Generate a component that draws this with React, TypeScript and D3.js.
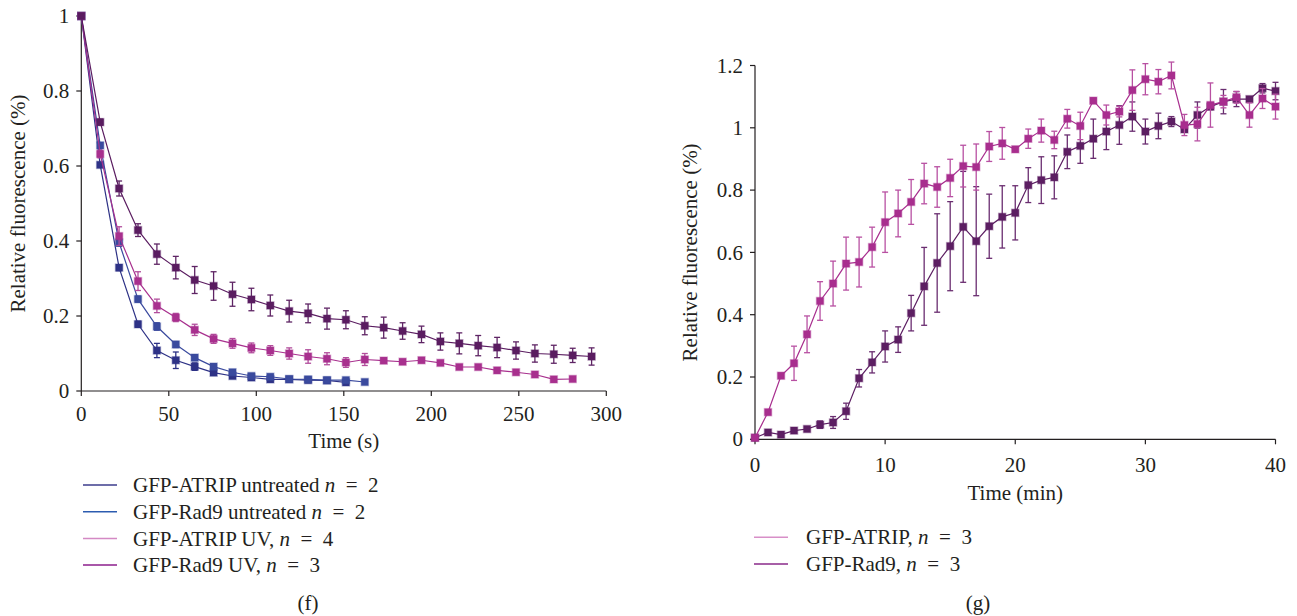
import React from "react";
import * as d3 from "d3";

// ---------- Panel (f) data ----------
const timeS = [0, 10.8, 21.6, 32.4, 43.2, 54, 64.8, 75.6, 86.4, 97.2, 108, 118.8, 129.6, 140.4, 151.2, 162, 172.8, 183.6, 194.4, 205.2, 216, 226.8, 237.6, 248.4, 259.2, 270, 280.8, 291.6];
const atripUntreated = [1, 0.603, 0.329, 0.178, 0.108, 0.082, 0.065, 0.049, 0.040, 0.036, 0.031, 0.031, 0.029, 0.028, 0.023];
const atripUntreatedErr = [0, 0.005, 0.008, 0.008, 0.019, 0.022, 0.01, 0.006, 0.005, 0.005, 0.004, 0.004, 0.004, 0.004, 0.004];
const rad9Untreated = [1, 0.655, 0.396, 0.245, 0.172, 0.124, 0.089, 0.065, 0.050, 0.040, 0.038, 0.032, 0.031, 0.029, 0.029, 0.024];
const rad9UntreatedErr = [0, 0.005, 0.01, 0.008, 0.01, 0.008, 0.008, 0.006, 0.005, 0.005, 0.004, 0.004, 0.004, 0.004, 0.004, 0.003];
const atripUV = [1, 0.632, 0.413, 0.293, 0.227, 0.196, 0.163, 0.139, 0.127, 0.115, 0.108, 0.100, 0.092, 0.086, 0.076, 0.084, 0.081, 0.078, 0.082, 0.075, 0.064, 0.064, 0.055, 0.050, 0.044, 0.031, 0.032];
const atripUVErr = [0, 0.01, 0.025, 0.025, 0.018, 0.011, 0.015, 0.012, 0.013, 0.013, 0.013, 0.015, 0.018, 0.016, 0.013, 0.016, 0.006, 0.005, 0.005, 0.004, 0.004, 0.004, 0.004, 0.004, 0.004, 0.004, 0.004];
const rad9UV = [1, 0.717, 0.540, 0.429, 0.365, 0.329, 0.296, 0.280, 0.258, 0.244, 0.228, 0.213, 0.207, 0.193, 0.190, 0.174, 0.169, 0.160, 0.151, 0.132, 0.127, 0.121, 0.116, 0.108, 0.100, 0.098, 0.095, 0.092];
const rad9UVErr = [0, 0.008, 0.02, 0.017, 0.027, 0.03, 0.036, 0.038, 0.032, 0.03, 0.028, 0.029, 0.025, 0.028, 0.024, 0.024, 0.028, 0.022, 0.022, 0.023, 0.028, 0.027, 0.027, 0.023, 0.023, 0.024, 0.019, 0.023];
const xTicksF = [0, 50, 100, 150, 200, 250, 300];
const yTicksF = [0, 0.2, 0.4, 0.6, 0.8, 1];

// ---------- Panel (g) data ----------
const timeMin = [0, 1, 2, 3, 4, 5, 6, 7, 8, 9, 10, 11, 12, 13, 14, 15, 16, 17, 18, 19, 20, 21, 22, 23, 24, 25, 26, 27, 28, 29, 30, 31, 32, 33, 34, 35, 36, 37, 38, 39, 40];
const atripG = [0.005, 0.087, 0.204, 0.244, 0.337, 0.444, 0.500, 0.564, 0.569, 0.617, 0.697, 0.725, 0.762, 0.821, 0.810, 0.839, 0.877, 0.874, 0.940, 0.950, 0.931, 0.965, 0.991, 0.961, 1.029, 1.006, 1.087, 1.041, 1.052, 1.121, 1.156, 1.148, 1.168, 1.009, 1.012, 1.073, 1.084, 1.098, 1.041, 1.094, 1.068];
const atripGErr = [0, 0.005, 0.008, 0.055, 0.059, 0.062, 0.072, 0.085, 0.08, 0.064, 0.097, 0.075, 0.072, 0.065, 0.065, 0.06, 0.067, 0.074, 0.048, 0.051, 0.008, 0.031, 0.037, 0.028, 0.03, 0.044, 0.008, 0.032, 0.017, 0.065, 0.05, 0.039, 0.043, 0.034, 0.054, 0.071, 0.02, 0.019, 0.039, 0.032, 0.04];
const rad9G = [0.005, 0.022, 0.015, 0.028, 0.033, 0.047, 0.054, 0.090, 0.196, 0.247, 0.298, 0.320, 0.405, 0.491, 0.566, 0.620, 0.682, 0.636, 0.684, 0.714, 0.727, 0.816, 0.832, 0.841, 0.923, 0.942, 0.965, 0.988, 1.009, 1.036, 0.988, 1.006, 1.020, 0.995, 1.041, 1.068, 1.084, 1.092, 1.092, 1.127, 1.118];
const rad9GErr = [0, 0.005, 0.008, 0.006, 0.006, 0.012, 0.019, 0.026, 0.028, 0.034, 0.05, 0.041, 0.057, 0.125, 0.158, 0.143, 0.178, 0.175, 0.103, 0.1, 0.087, 0.056, 0.075, 0.069, 0.054, 0.056, 0.063, 0.058, 0.062, 0.047, 0.04, 0.041, 0.016, 0.008, 0.042, 0.01, 0.039, 0.024, 0.008, 0.015, 0.028];
const xTicksG = [0, 10, 20, 30, 40];
const yTicksG = [0, 0.2, 0.4, 0.6, 0.8, 1, 1.2];

const legendF = [
  { label: "GFP-ATRIP untreated ", n: "2", color: "#3d3d8c" },
  { label: "GFP-Rad9 untreated ", n: "2", color: "#2c5cb0" },
  { label: "GFP-ATRIP UV, ", n: "4", color: "#d489c4" },
  { label: "GFP-Rad9 UV, ", n: "3", color: "#8c1f8c" },
];
const legendG = [
  { label: "GFP-ATRIP, ", n: "3", color: "#d88fc8" },
  { label: "GFP-Rad9, ", n: "3", color: "#8a2a8a" },
];

const FONT = "'Liberation Serif', 'DejaVu Serif', serif";
const FS = 21;

type Scale = d3.ScaleLinear<number, number>;

function Series({ xs, ys, es, x, y, color, errColor }: { xs: number[]; ys: number[]; es: number[]; x: Scale; y: Scale; color: string; errColor: string }) {
  const pts = ys.map((v, i) => [xs[i], v] as [number, number]);
  const line = d3.line<[number, number]>().x((d) => x(d[0])).y((d) => y(d[1]));
  const cap = 3;
  const m = 3.6;
  return (
    <g>
      <path d={line(pts) || ""} fill="none" stroke={color} strokeWidth={1.2} />
      {pts.map((p, i) => {
        const e = es[i] || 0;
        if (e < 0.0075) return null;
        const cx = x(p[0]);
        const y1 = y(p[1] + e);
        const y2 = y(p[1] - e);
        return (
          <g key={"e" + i} stroke={errColor} strokeWidth={1.3}>
            <line x1={cx} x2={cx} y1={y1} y2={y2} />
            <line x1={cx - cap} x2={cx + cap} y1={y1} y2={y1} />
            <line x1={cx - cap} x2={cx + cap} y1={y2} y2={y2} />
          </g>
        );
      })}
      {pts.map((p, i) => (
        <rect key={"m" + i} x={x(p[0]) - m} y={y(p[1]) - m} width={2 * m} height={2 * m} fill={color} stroke={color} strokeOpacity={0.35} strokeWidth={1.4} />
      ))}
    </g>
  );
}

function Axes({ x, y, xt, yt, yFmt, xLabel, xLabelY, titleX, xLabY }: { x: Scale; y: Scale; xt: number[]; yt: number[]; yFmt: (v: number) => string; xLabel: string; xLabelY: number; titleX: number; xLabY: number }) {
  const [x0, x1] = x.range();
  const [y0, y1] = y.range();
  return (
    <g fontFamily={FONT} fontSize={FS} fill="#231f20">
      <line x1={x0} x2={x1} y1={y0} y2={y0} stroke="#231f20" strokeWidth={1.2} />
      <line x1={x0} x2={x0} y1={y0} y2={y1} stroke="#231f20" strokeWidth={1.2} />
      {xt.map((t) => (
        <g key={"x" + t}>
          <line x1={x(t)} x2={x(t)} y1={y0} y2={y0 + 5} stroke="#231f20" strokeWidth={1.2} />
          <text x={x(t)} y={xLabY} textAnchor="middle">{t}</text>
        </g>
      ))}
      {yt.map((t) => (
        <g key={"y" + t}>
          <line x1={x0 - 5} x2={x0} y1={y(t)} y2={y(t)} stroke="#231f20" strokeWidth={1.2} />
          <text x={x0 - 12} y={y(t)} dy="0.34em" textAnchor="end">{yFmt(t)}</text>
        </g>
      ))}
      <text x={(x0 + x1) / 2} y={xLabelY} textAnchor="middle">{xLabel}</text>
      <text transform={`translate(${titleX},${(y0 + y1) / 2}) rotate(-90)`} textAnchor="middle" dy="0.34em">Relative fluorescence (%)</text>
    </g>
  );
}

export default function App() {
  const xF = d3.scaleLinear().domain([0, 300]).range([81.3, 606.3]);
  const yF = d3.scaleLinear().domain([0, 1]).range([391, 16]);
  const xG = d3.scaleLinear().domain([0, 40]).range([755, 1275.5]);
  const yG = d3.scaleLinear().domain([0, 1.2]).range([439.3, 65.5]);
  const fmt = (v: number) => (v === 0 ? "0" : v === 1 ? "1" : d3.format(".1f")(v));
  const eq = "\u2002=\u2002";

  return (
    <svg width={1297} height={616} style={{ position: "absolute", left: 0, top: 0, background: "#fff" }}>
      <rect width={1297} height={616} fill="#fff" />
      {/* Panel f */}
      <Axes x={xF} y={yF} xt={xTicksF} yt={yTicksF} yFmt={fmt} xLabel="Time (s)" xLabelY={448} titleX={18} xLabY={421} />
      <Series xs={timeS} ys={atripUntreated} es={atripUntreatedErr} x={xF} y={yF} color="#2e3286" errColor="#2e3286" />
      <Series xs={timeS} ys={rad9Untreated} es={rad9UntreatedErr} x={xF} y={yF} color="#3a4a9e" errColor="#3a4a9e" />
      <Series xs={timeS} ys={atripUV} es={atripUVErr} x={xF} y={yF} color="#a8308e" errColor="#b24d9c" />
      <Series xs={timeS} ys={rad9UV} es={rad9UVErr} x={xF} y={yF} color="#5a1c60" errColor="#5e2464" />
      <g fontFamily={FONT} fontSize={FS} fill="#231f20">
        {legendF.map((l, i) => {
          const yy = 485 + i * 26.7;
          return (
            <g key={l.label}>
              <line x1={83} x2={117} y1={yy} y2={yy} stroke={l.color} strokeWidth={1.5} />
              <text x={133} y={yy} dy="0.34em">
                {l.label}
                <tspan fontStyle="italic">n</tspan>
                {eq + l.n}
              </text>
            </g>
          );
        })}
        <text x={308} y={603} dy="0.34em" textAnchor="middle">(f)</text>
      </g>

      {/* Panel g */}
      <Axes x={xG} y={yG} xt={xTicksG} yt={yTicksG} yFmt={fmt} xLabel="Time (min)" xLabelY={500} titleX={690} xLabY={472} />
      <Series xs={timeMin} ys={rad9G} es={rad9GErr} x={xG} y={yG} color="#5c1e62" errColor="#6a2d70" />
      <Series xs={timeMin} ys={atripG} es={atripGErr} x={xG} y={yG} color="#a82e8e" errColor="#b850a2" />
      <g fontFamily={FONT} fontSize={FS} fill="#231f20">
        {legendG.map((l, i) => {
          const yy = 537.3 + i * 26.7;
          return (
            <g key={l.label}>
              <line x1={754} x2={788} y1={yy} y2={yy} stroke={l.color} strokeWidth={1.5} />
              <text x={806} y={yy} dy="0.34em">
                {l.label}
                <tspan fontStyle="italic">n</tspan>
                {eq + l.n}
              </text>
            </g>
          );
        })}
        <text x={978} y={603} dy="0.34em" textAnchor="middle">(g)</text>
      </g>
    </svg>
  );
}
